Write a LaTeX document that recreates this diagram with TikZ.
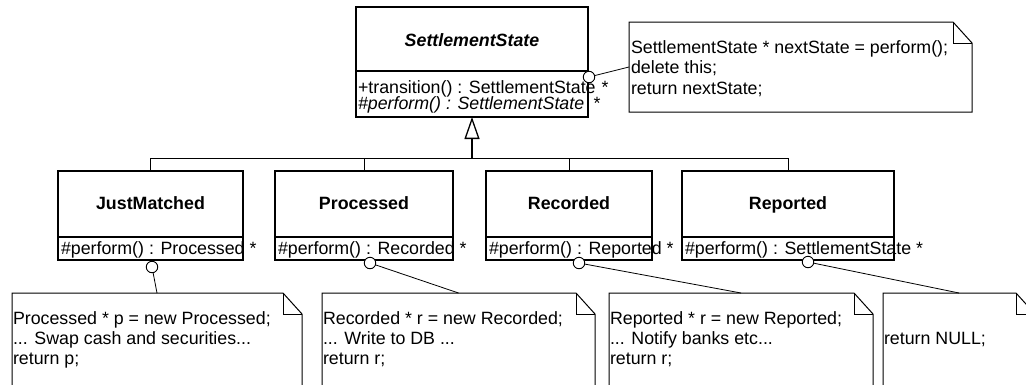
\documentclass[tikz,border=0pt]{standalone}
\usepackage{fontspec}
\setmainfont{Liberation Sans}
\usetikzlibrary{arrows.meta}
\newcommand\drawnote[1]{%
  \draw[noteline] (#1.south west) -- (#1.north west) -- ([xshift=-19pt]#1.north east)
     -- ([yshift=-21pt]#1.north east) -- (#1.south east) -- cycle;
  \draw[noteline] ([xshift=-19pt]#1.north east) |- ([yshift=-21pt]#1.north east);}
\begin{document}
\begin{tikzpicture}[x=1pt,y=-1pt,
  every node/.style={font=\fontsize{17.8}{20}\selectfont, inner sep=0pt, outer sep=0pt},
  classbox/.style={draw, line width=1.1pt, rectangle},
  notebody/.style={rectangle, draw=none},
  noteline/.style={line width=1pt},
  txt/.style={anchor=base west},
  ttl/.style={anchor=base, font=\fontsize{17.8}{20}\selectfont\bfseries},
  knob/.style={circle, draw, fill=white, line width=0.9pt, minimum size=11.5pt},
  link/.style={line width=0.8pt},
  gen/.style={line width=1pt},
]
\useasboundingbox (0,0) rectangle (1026,384);
\fill[white] (0,0) rectangle (1026,384);
\clip (0,0) rectangle (1026,384);

% ---------- abstract class
\node[classbox, minimum width=232pt, minimum height=110pt] (ss) at (472,62) {};
\draw[line width=1.1pt] (356,71) -- (588,71);
\node[ttl, font=\fontsize{17.8}{20}\selectfont\bfseries\itshape] (ssT) at (472,46) {SettlementState};
\node[txt] (ssM1) at (358,93) {+transition() : SettlementState};
\node[txt, font=\fontsize{17.8}{20}\selectfont\itshape] (ssM2) at (358,109) {\#perform() : SettlementState};
\node[anchor=base] (ssS1) at (605,93) {*};
\node[anchor=base] (ssS2) at (597,109) {*};

% ---------- subclasses
\node[classbox, minimum width=185pt, minimum height=89pt] (jm) at (150.5,215.5) {};
\node[classbox, minimum width=178pt, minimum height=89pt] (pr) at (364,215.5) {};
\node[classbox, minimum width=166pt, minimum height=89pt] (rc) at (569,215.5) {};
\node[classbox, minimum width=212pt, minimum height=89pt] (rp) at (788,215.5) {};
\foreach \n in {jm,pr,rc,rp}{
  \draw[line width=1.1pt] (\n.west |- 0,237) -- (\n.east |- 0,237);
}
\node[ttl] (jmT) at (150.5,209) {JustMatched};
\node[ttl] (prT) at (364,209) {Processed};
\node[ttl] (rcT) at (569,209) {Recorded};
\node[ttl] (rpT) at (788,209) {Reported};
\node[txt] (jmM) at (61,254) {\#perform() : Processed *};
\node[txt] (prM) at (278,254) {\#perform() : Recorded *};
\node[txt] (rcM) at (489,254) {\#perform() : Reported *};
\node[txt] (rpM) at (685,254) {\#perform() : SettlementState *};

% ---------- generalization
\coordinate (hub) at (472,158);
\draw[gen] (jm.north) |- (hub);
\draw[gen] (pr.north) |- (hub);
\draw[gen] (rc.north) |- (hub);
\draw[gen] (rp.north) |- (hub);
\draw[line width=1.6pt, -{Triangle[open, width=15pt, length=22pt, line width=1.3pt]}] (hub) -- (ss.south);

% ---------- notes
\node[notebody, minimum width=343pt, minimum height=90pt] (n0) at (800.5,67) {};
\node[notebody, minimum width=290pt, minimum height=127pt] (n1) at (157,356.5) {};
\node[notebody, minimum width=273pt, minimum height=127pt] (n2) at (458.5,356.5) {};
\node[notebody, minimum width=264pt, minimum height=127pt] (n3) at (741,356.5) {};
\node[notebody, minimum width=152pt, minimum height=127pt] (n4) at (959,356.5) {};
\drawnote{n0}
\drawnote{n1}
\drawnote{n2}
\drawnote{n3}
\drawnote{n4}

\node[txt] (n0a) at (631,53) {SettlementState * nextState = perform();};
\node[txt] (n0b) at (631,73.5) {delete this;};
\node[txt] (n0c) at (631,94) {return nextState;};

\node[txt] (n1a) at (13,324) {Processed * p = new Processed;};
\node[txt] (n1b) at (13,344) {... Swap cash and securities...};
\node[txt] (n1c) at (13,364) {return p;};

\node[txt] (n2a) at (323,324) {Recorded * r = new Recorded;};
\node[txt] (n2b) at (323,344) {... Write to DB ...};
\node[txt] (n2c) at (323,364) {return r;};

\node[txt] (n3a) at (610,324) {Reported * r = new Reported;};
\node[txt] (n3b) at (610,344) {... Notify banks etc...};
\node[txt] (n3c) at (610,364) {return r;};

\node[txt] (n4a) at (884,344) {return NULL;};

% ---------- note attachments
\node[knob] (c0) at (589,77) {};
\node[knob] (c1) at (152,267) {};
\node[knob] (c2) at (370,263) {};
\node[knob] (c3) at (579,263) {};
\node[knob] (c4) at (808,262) {};
\draw[link] (c0) -- (n0.west);
\draw[link] (c1) -- (n1.north);
\draw[link] (c2) -- (n2.north);
\draw[link] (c3) -- (n3.north);
\draw[link] (c4) -- (n4.north);
\end{tikzpicture}
\end{document}
